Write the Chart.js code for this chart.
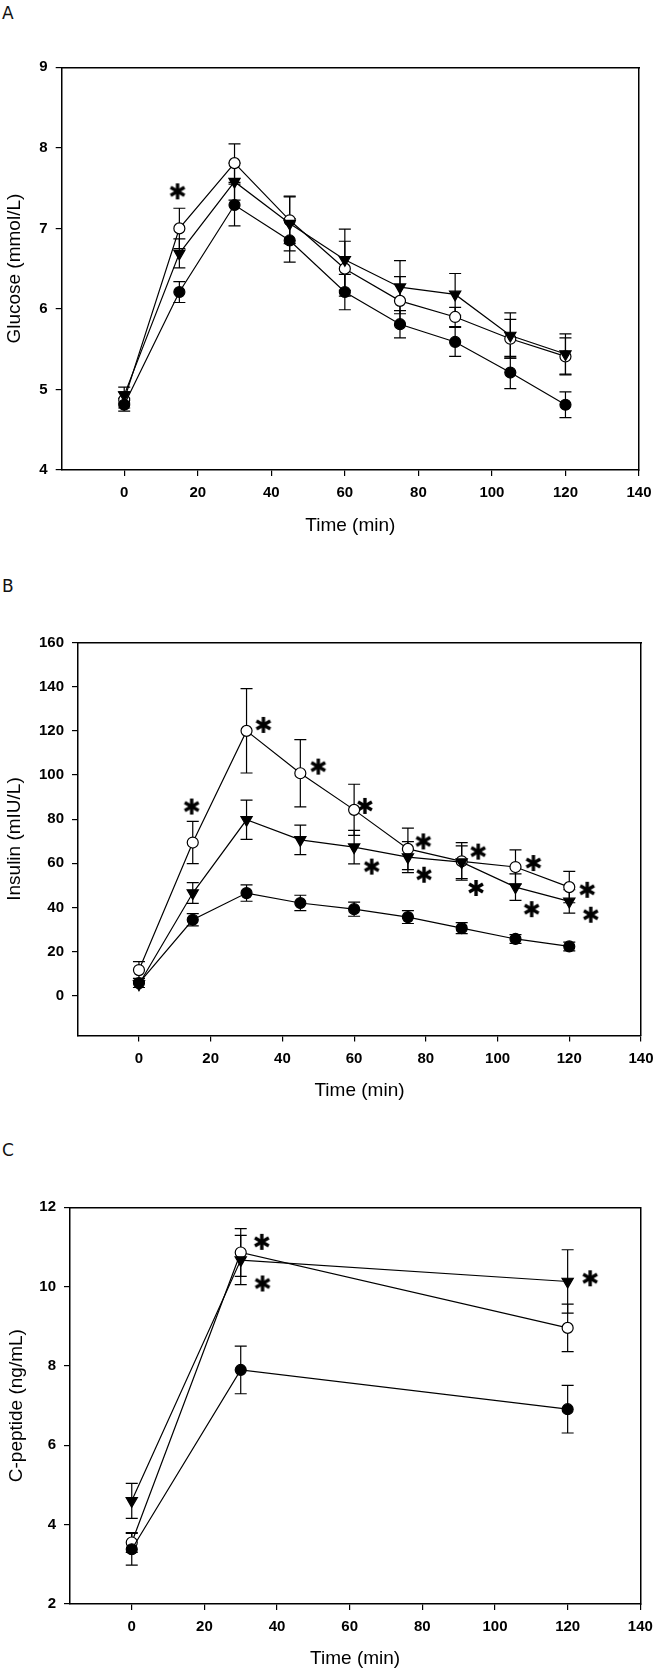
<!DOCTYPE html>
<html>
<head>
<meta charset="utf-8">
<script src="https://cdn.jsdelivr.net/npm/chart.js@4.4.1/dist/chart.umd.min.js"></script>
<style>
  body{margin:0;background:#fff;width:672px;height:1672px;position:relative;overflow:hidden}
  .panel{position:absolute;left:0;width:672px}
  .letter{position:absolute;left:2px;font-family:"DejaVu Sans",sans-serif;font-size:17px;line-height:17px;color:#111}
</style>
</head>
<body>
<div class="letter" style="top:5px">A</div>
<div class="letter" style="top:578px">B</div>
<div class="letter" style="top:1142px">C</div>
<div class="panel" style="top:0"><canvas id="glucoseChart" width="672" height="560"></canvas></div>
<div class="panel" style="top:560px"><canvas id="insulinChart" width="672" height="560"></canvas></div>
<div class="panel" style="top:1120px"><canvas id="cpepChart" width="672" height="552"></canvas></div>
<script>
// sampling times (min)
const times = [0, 15, 30, 45, 60, 75, 90, 105, 120];
const cpepTimes = [0, 30, 120];
const xTicks = [0, 20, 40, 60, 80, 100, 120, 140];

// A: glucose (mmol/L), mean and SE per group
const glucoseFilled   = [4.81, 6.21, 7.29, 6.85, 6.21, 5.81, 5.59, 5.21, 4.81];
const glucoseFilledSE = [0.08, 0.13, 0.26, 0.27, 0.22, 0.17, 0.18, 0.20, 0.16];
const glucoseOpen     = [4.87, 7.00, 7.81, 7.10, 6.50, 6.10, 5.90, 5.63, 5.41];
const glucoseOpenSE   = [0.10, 0.25, 0.24, 0.29, 0.34, 0.30, 0.12, 0.24, 0.23];
const glucoseTri      = [4.93, 6.69, 7.58, 7.06, 6.61, 6.27, 6.18, 5.67, 5.44];
const glucoseTriSE    = [0.10, 0.18, 0.23, 0.34, 0.38, 0.33, 0.26, 0.28, 0.25];
const glucoseStarX = [14.5];
const glucoseStarY = [7.46];
const glucoseTicks = [4, 5, 6, 7, 8, 9];

// B: insulin (mIU/L)
const insulinFilled   = [5.7, 34.4, 46.5, 42.0, 39.2, 35.6, 30.6, 25.7, 22.3];
const insulinFilledSE = [2.0, 2.8, 3.7, 3.5, 3.2, 2.9, 2.5, 2.0, 2.0];
const insulinOpen     = [11.6, 69.4, 120.0, 100.8, 84.2, 66.5, 60.9, 58.3, 49.2];
const insulinOpenSE   = [3.8, 9.6, 19.1, 15.2, 11.6, 9.4, 8.5, 7.8, 7.1];
const insulinTri      = [5.2, 46.5, 79.7, 70.6, 67.3, 62.8, 60.5, 49.2, 42.7];
const insulinTriSE    = [1.5, 4.7, 8.9, 6.7, 7.6, 7.0, 7.4, 6.0, 5.3];
const insulinStarX = [14.7, 34.7, 50.0, 63.0, 64.9, 79.3, 79.5, 94.6, 94.0, 110.0, 109.5, 125.0, 126.0];
const insulinStarY = [85.7, 122.7, 103.8, 86.0, 58.5, 69.9, 54.8, 65.3, 48.8, 60.1, 39.2, 48.0, 36.7];
const insulinTicks = [0, 20, 40, 60, 80, 100, 120, 140, 160];

// C: C-peptide (ng/mL)
const cpepFilled   = [3.38, 7.90, 6.91];
const cpepFilledSE = [0.40, 0.60, 0.60];
const cpepOpen     = [3.55, 10.86, 8.96];
const cpepOpenSE   = [0.25, 0.60, 0.60];
const cpepTri      = [4.60, 10.67, 10.13];
const cpepTriSE    = [0.44, 0.62, 0.80];
const cpepStarX = [35.8, 36.0, 126.2];
const cpepStarY = [11.13, 10.08, 10.21];
const cpepTicks = [2, 4, 6, 8, 10, 12];

const FONT = "'Liberation Sans', Arial, sans-serif";

// bold six-armed asterisk used as point style for significance marks
const starImg = (function(){
  const c = document.createElement('canvas');
  c.width = 18; c.height = 18;
  const g = c.getContext('2d');
  g.strokeStyle = '#000'; g.lineWidth = 3.4;
  for(let k=0;k<3;k++){
    const a = Math.PI/2 + k*Math.PI/3;
    g.beginPath();
    g.moveTo(9 + Math.cos(a)*8, 9 - Math.sin(a)*8);
    g.lineTo(9 - Math.cos(a)*8, 9 + Math.sin(a)*8);
    g.stroke();
  }
  return c;
})();

// vertical SE bars with caps, drawn under the symbols
const errorBars = {
  id: 'errorBars',
  beforeDatasetsDraw(chart){
    const {ctx, scales:{x, y}} = chart;
    ctx.save();
    ctx.strokeStyle = '#000'; ctx.lineWidth = 1.2;
    chart.data.datasets.forEach(ds=>{
      if(!ds.errors) return;
      ds.data.forEach((p,i)=>{
        const px = x.getPixelForValue(p.x);
        const top = y.getPixelForValue(p.y + ds.errors[i]);
        const bot = y.getPixelForValue(p.y - ds.errors[i]);
        ctx.beginPath();
        ctx.moveTo(px, top); ctx.lineTo(px, bot);
        ctx.moveTo(px-6, top); ctx.lineTo(px+6, top);
        ctx.moveTo(px-6, bot); ctx.lineTo(px+6, bot);
        ctx.stroke();
      });
    });
    ctx.restore();
  }
};

function pts(xs, ys){ return xs.map((t,i)=>({x:t, y:ys[i]})); }

function series(xs, ys, se, kind){
  const base = {
    data: pts(xs, ys), errors: se,
    borderColor: '#000', borderWidth: 1.2, tension: 0,
    pointBorderColor: '#000', pointBorderWidth: 1.2
  };
  if(kind==='filled') return Object.assign(base, {pointStyle:'circle', pointRadius:5.5, pointBackgroundColor:'#000'});
  if(kind==='open') return Object.assign(base, {pointStyle:'circle', pointRadius:5.5, pointBackgroundColor:'#fff'});
  return Object.assign(base, {pointStyle:'triangle', pointRotation:180, pointRadius:6.5, pointBackgroundColor:'#000'});
}

function stars(xs, ys){
  return {data: pts(xs, ys), showLine:false, pointStyle: starImg, pointRadius: 9, borderColor:'#000', backgroundColor:'#000'};
}

function frameAxis(pos){
  const horiz = pos==='top';
  return {
    type:'linear', position: pos, min:0, max:1,
    ticks:{display:false}, grid:{display:false},
    border:{display:true, color:'#000', width:1.5},
    afterFit: s=>{ if(horiz) s.height = 0; else s.width = 0; }
  };
}

function draw(id, o){
  const canvas = document.getElementById(id);
  const tickGrid = {display:true, drawOnChartArea:false, drawTicks:true, tickLength:6, color:'#000', lineWidth:1.2};
  new Chart(canvas.getContext('2d'), {
    type:'line',
    data:{ datasets: o.datasets },
    options:{
      responsive:false, animation:false, events:[],
      layout:{ padding:{ left:0, top:o.top, right:672 - o.right, bottom:o.padBottom } },
      plugins:{ legend:{display:false}, tooltip:{enabled:false} },
      scales:{
        x:{
          type:'linear', min:-17, max:140,
          afterBuildTicks: s=>{ s.ticks = xTicks.map(v=>({value:v})); },
          afterFit: s=>{ s.height = o.xh; },
          grid: tickGrid,
          border:{display:true, color:'#000', width:1.5},
          ticks:{color:'#000', padding:8, maxRotation:0, font:{family:FONT, size:15, weight:'bold'}},
          title:{display:true, text:'Time (min)', color:'#000', font:{family:FONT, size:19}, padding:{top:0, bottom:o.xtp}}
        },
        y:{
          type:'linear', min:o.ymin, max:o.ymax,
          afterBuildTicks: s=>{ s.ticks = o.yTicks.map(v=>({value:v})); },
          afterFit: s=>{ s.width = o.left; },
          grid: tickGrid,
          border:{display:true, color:'#000', width:1.5},
          ticks:{color:'#000', padding:8, font:{family:FONT, size:15, weight:'bold'}},
          title:{display:true, text:o.yTitle, color:'#000', font:{family:FONT, size:19}, padding:{top:o.ytp, bottom:0}}
        },
        x2: frameAxis('top'),
        y2: frameAxis('right')
      }
    },
    plugins:[errorBars]
  });
}

draw('glucoseChart', {
  top:67.3, right:639, left:61.7, xh:75, padBottom:560-470-75, xtp:7.6, ytp:3.2,
  ymin:4, ymax:9, yTicks:glucoseTicks, yTitle:'Glucose (mmol/L)',
  datasets:[
    series(times, glucoseFilled, glucoseFilledSE, 'filled'),
    series(times, glucoseTri, glucoseTriSE, 'tri'),
    series(times, glucoseOpen, glucoseOpenSE, 'open'),
    stars(glucoseStarX, glucoseStarY)
  ]
});

draw('insulinChart', {
  top:82.6, right:641, left:78, xh:75, padBottom:560-475.4-75, xtp:8, ytp:3.1,
  ymin:-18, ymax:160, yTicks:insulinTicks, yTitle:'Insulin (mIU/L)',
  datasets:[
    series(times, insulinFilled, insulinFilledSE, 'filled'),
    series(times, insulinTri, insulinTriSE, 'tri'),
    series(times, insulinOpen, insulinOpenSE, 'open'),
    stars(insulinStarX, insulinStarY)
  ]
});

draw('cpepChart', {
  top:87.3, right:640.3, left:70, xh:68, padBottom:0, xtp:1.6, ytp:5.3,
  ymin:2, ymax:12, yTicks:cpepTicks, yTitle:'C-peptide (ng/mL)',
  datasets:[
    series(cpepTimes, cpepFilled, cpepFilledSE, 'filled'),
    series(cpepTimes, cpepTri, cpepTriSE, 'tri'),
    series(cpepTimes, cpepOpen, cpepOpenSE, 'open'),
    stars(cpepStarX, cpepStarY)
  ]
});
</script>
</body>
</html>
